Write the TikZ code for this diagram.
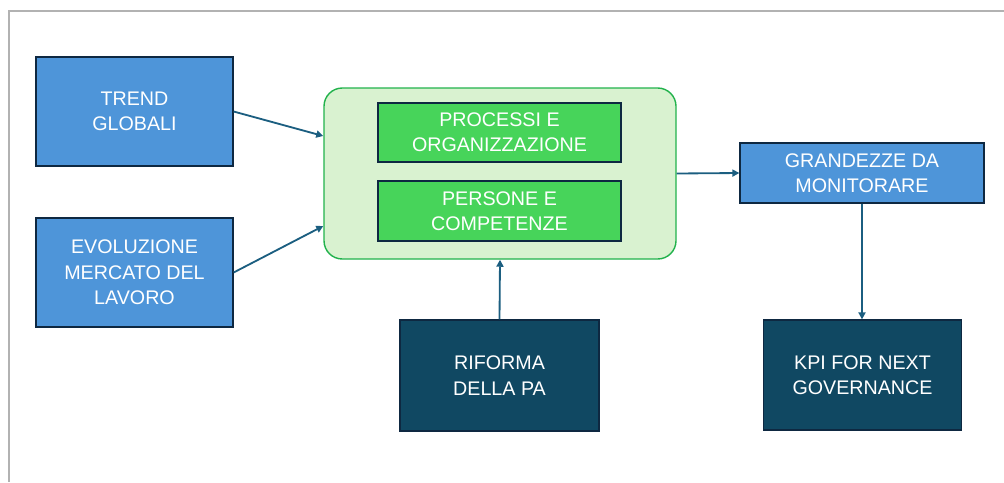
\documentclass[tikz,border=0pt]{standalone}
\usepackage{fontspec}
\setmainfont{Liberation Sans}
\usetikzlibrary{arrows.meta}
\definecolor{boxblue}{HTML}{4E95D9}
\definecolor{boxnavy}{HTML}{0E2841}
\definecolor{boxteal}{HTML}{104862}
\definecolor{boxgreen}{HTML}{47D45A}
\definecolor{palegreen}{HTML}{D9F2D0}
\definecolor{framegreen}{HTML}{22B24C}
\definecolor{linkblue}{HTML}{1B5E80}
\tikzset{
    box-text/.style = {text=white, align=center, font=\fontsize{14}{18}\selectfont, inner sep=0pt},
    blue-box/.style = {box-text, draw=boxnavy, fill=boxblue, line width=0.9pt, rectangle},
    dark-box/.style = {box-text, draw=boxnavy, fill=boxteal, line width=0.9pt, rectangle},
    green-box/.style = {box-text, draw=boxnavy, fill=boxgreen, line width=1.2pt, rectangle},
    group-box/.style = {draw=framegreen, fill=palegreen, line width=1pt, rectangle, rounded corners=13pt},
    link/.style = {draw=linkblue, line width=1.3pt, -{Triangle[length=5pt,width=5pt]}},
}

\begin{document}
\begin{tikzpicture}[x=0.025cm, y=-0.025cm]
\useasboundingbox (0,0) rectangle (1004,482);
\draw[gray!60, line width=1.5pt] (9,482) -- (9,11) -- (1004,11);

\node[group-box, minimum width=352*0.025cm, minimum height=171*0.025cm] (group) at (500,173.5) {};
\node[green-box, minimum width=243*0.025cm, minimum height=59*0.025cm] (processi) at (499.5,132.5) {PROCESSI E\\ORGANIZZAZIONE};
\node[green-box, minimum width=243*0.025cm, minimum height=60*0.025cm] (persone) at (499.5,211) {PERSONE E\\COMPETENZE};

\node[blue-box, minimum width=197*0.025cm, minimum height=109*0.025cm] (trend) at (134.5,111.5) {TREND\\GLOBALI};
\node[blue-box, minimum width=197*0.025cm, minimum height=109*0.025cm] (mercato) at (134.5,272.5) {EVOLUZIONE\\MERCATO DEL\\LAVORO};
\node[blue-box, minimum width=244*0.025cm, minimum height=60*0.025cm] (grandezze) at (862,173) {GRANDEZZE DA\\MONITORARE};
\node[dark-box, minimum width=199*0.025cm, minimum height=111*0.025cm] (riforma) at (499.5,375.5) {RIFORMA\\DELLA PA};
\node[dark-box, minimum width=198*0.025cm, minimum height=110*0.025cm] (kpi) at (862.5,375) {KPI FOR NEXT\\GOVERNANCE};

\draw[link] (trend.east) -- (group.west |- 0,136);
\draw[link] (mercato.east) -- (group.west |- 0,226);
\draw[link] (group.east) -- (grandezze.west);
\draw[link] (grandezze.south) -- (grandezze.south |- kpi.north);
\draw[link] (riforma.north) -- (group.south);
\end{tikzpicture}
\end{document}
